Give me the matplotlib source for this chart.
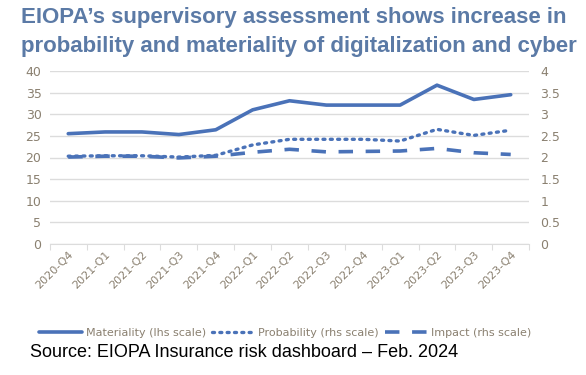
import matplotlib
matplotlib.use('Agg')
import matplotlib.pyplot as plt

quarters = ['2020-Q4', '2021-Q1', '2021-Q2', '2021-Q3', '2021-Q4', '2022-Q1', '2022-Q2',
            '2022-Q3', '2022-Q4', '2023-Q1', '2023-Q2', '2023-Q3', '2023-Q4']
materiality = [25.5, 25.9, 25.9, 25.3, 26.4, 31.0, 33.1, 32.1, 32.1, 32.1, 36.7, 33.4, 34.5]
probability = [2.03, 2.04, 2.04, 2.01, 2.05, 2.29, 2.42, 2.42, 2.42, 2.38, 2.65, 2.51, 2.63]
impact = [2.01, 2.03, 2.03, 1.99, 2.03, 2.12, 2.19, 2.13, 2.14, 2.15, 2.21, 2.11, 2.07]

line_col = '#4a72b8'
tick_col = '#8a8070'
grid_col = '#dcdcdc'

fig = plt.figure(figsize=(5.86, 3.75), dpi=100)
ax = fig.add_axes([0.085, 0.349, 0.818, 0.462])
ax2 = ax.twinx()

x = list(range(len(quarters)))
l1, = ax.plot(x, materiality, color=line_col, lw=2.6, solid_capstyle='round')
l2, = ax2.plot(x, probability, color=line_col, lw=2.4, linestyle=(0, (0.6, 1.6)),
               dash_capstyle='round')
l3, = ax2.plot(x, impact, color=line_col, lw=2.6, linestyle=(0, (4, 3.5)))

ax.set_xlim(-0.5, len(quarters) - 0.5)
ax.set_ylim(0, 40)
ax2.set_ylim(0, 4)
ax.set_yticks(range(0, 41, 5))
ax2.set_yticks([0, 0.5, 1, 1.5, 2, 2.5, 3, 3.5, 4])
ax2.set_yticklabels(['0', '0.5', '1', '1.5', '2', '2.5', '3', '3.5', '4'])
ax.grid(axis='y', color=grid_col, lw=1)
ax.set_axisbelow(True)

ax.set_xticks([i - 0.5 for i in range(len(quarters) + 1)], minor=False)
ax.set_xticklabels([])
ax.set_xticks(x, minor=True)
ax.set_xticklabels(quarters, minor=True, rotation=45, ha='right', rotation_mode='anchor',
                   fontsize=8, color=tick_col)
ax.tick_params(axis='x', which='major', length=4, color=grid_col)
ax.tick_params(axis='x', which='minor', length=0, pad=4)

for a in (ax, ax2):
    for s in a.spines.values():
        s.set_visible(False)
ax.spines['bottom'].set_visible(True)
ax.spines['bottom'].set_color(grid_col)
ax.tick_params(axis='y', length=0, labelsize=9, labelcolor=tick_col, pad=6)
ax2.tick_params(axis='y', length=0, labelsize=9, labelcolor=tick_col, pad=8)

fig.text(0.036, 0.953, "EIOPA\u2019s supervisory assessment shows increase in",
         ha='left', va='center', fontsize=16, fontweight='bold', color='#5b7aa6',
         family='Liberation Sans')
fig.text(0.036, 0.877, "probability and materiality of digitalization and cyber",
         ha='left', va='center', fontsize=16, fontweight='bold', color='#5b7aa6',
         family='Liberation Sans')

leg = fig.legend([l1, l2, l3], ['Materiality (lhs scale)', 'Probability (rhs scale)',
                                'Impact (rhs scale)'],
                 loc='center', bbox_to_anchor=(0.487, 0.112), ncol=3, frameon=False,
                 fontsize=8, handlelength=3.8, columnspacing=0.5, handletextpad=0.4)
for t in leg.get_texts():
    t.set_color(tick_col)

fig.text(0.051, 0.06, 'Source: EIOPA Insurance risk dashboard \u2013 Feb. 2024',
         ha='left', va='center', fontsize=13, color='black', family='Liberation Sans')

fig.savefig('out.png', dpi=100)
